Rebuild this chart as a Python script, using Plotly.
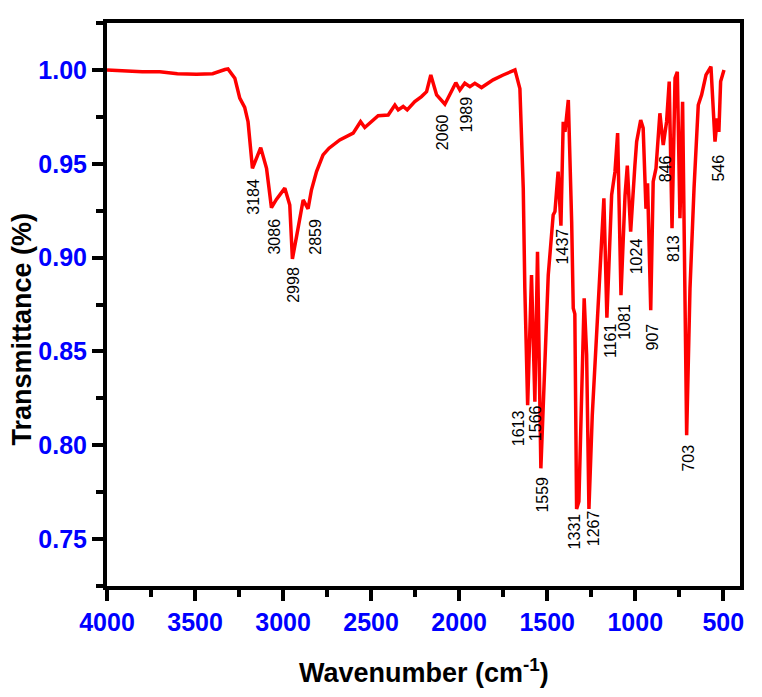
import plotly.graph_objects as go

# FTIR spectrum
wavenumber = [4000, 3900, 3800, 3700, 3600, 3492, 3400, 3330, 3313, 3274, 3246, 3218, 3199,
              3174, 3127, 3094, 3066, 3038, 2990, 2962, 2947, 2915, 2886, 2858, 2839, 2810,
              2773, 2739, 2678, 2602, 2560, 2536, 2460, 2403, 2365, 2346, 2318, 2295, 2252,
              2214, 2185, 2161, 2128, 2081, 2043, 2019, 1996, 1968, 1939, 1911, 1873, 1807,
              1750, 1683, 1655, 1636, 1627, 1611, 1589, 1570, 1555, 1536, 1494, 1466, 1456,
              1438, 1422, 1409, 1399, 1380, 1361, 1352, 1343, 1333, 1320, 1290, 1276, 1263,
              1244, 1219, 1191, 1178, 1161, 1134, 1115, 1100, 1081, 1058, 1045, 1026, 1002,
              992, 969, 955, 939, 930, 912, 898, 882, 860, 841, 822, 807, 791, 774, 761, 746,
              731, 708, 689, 666, 642, 623, 598, 570, 547, 534, 525, 515, 496]
transmittance = [1.000, 0.9995, 0.999, 0.999, 0.998, 0.9977, 0.998, 1.0002, 1.0005, 0.9956,
                 0.985, 0.980, 0.9724, 0.9476, 0.9586, 0.9476, 0.9266, 0.931, 0.937, 0.928,
                 0.8993, 0.9156, 0.9307, 0.926, 0.936, 0.9458, 0.9547, 0.9583, 0.9627, 0.9663,
                 0.9724, 0.9693, 0.9756, 0.976, 0.9813, 0.9787, 0.9805, 0.9787, 0.9831, 0.9858,
                 0.9884, 0.9973, 0.9867, 0.9817, 0.9884, 0.9932, 0.9893, 0.9929, 0.9911, 0.9929,
                 0.9906, 0.9947, 0.9973, 1.000, 0.990, 0.937, 0.8836, 0.8214, 0.8907, 0.8232,
                 0.9031, 0.7877, 0.8907, 0.9227, 0.9245, 0.9458, 0.917, 0.9724, 0.967, 0.984,
                 0.919, 0.873, 0.870, 0.766, 0.770, 0.8783, 0.848, 0.766, 0.816, 0.857, 0.910,
                 0.9316, 0.868, 0.9334, 0.9458, 0.9663, 0.880, 0.933, 0.949, 0.9138, 0.949,
                 0.9618, 0.9733, 0.969, 0.926, 0.9396, 0.872, 0.9405, 0.9476, 0.9769, 0.960,
                 0.9724, 0.9938, 0.9156, 0.9956, 0.999, 0.921, 0.983, 0.8054, 0.8836, 0.937,
                 0.9813, 0.9867, 0.9973, 1.0018, 0.9618, 0.9742, 0.967, 0.9938, 1.000]

# peak labels and where they sit
peak_labels = ["3184", "3086", "2998", "2859", "2060", "1989", "1613", "1566", "1559", "1437",
               "1331", "1267", "1161", "1081", "1024", "907", "846", "813", "703", "546"]
label_x = [3170, 3047, 2939, 2814, 2090, 1958, 1661, 1570, 1526, 1412,
           1343, 1235, 1144, 1058, 992, 901, 831, 787, 699, 528]
label_y = [0.9325, 0.9111, 0.8854, 0.911, 0.967, 0.976, 0.809, 0.8117, 0.7735, 0.9058,
           0.754, 0.7557, 0.856, 0.8658, 0.9005, 0.8578, 0.9476, 0.905, 0.793, 0.9476]

font_fam = "Arial, Liberation Sans, sans-serif"

fig = go.Figure()
fig.add_trace(go.Scatter(x=wavenumber, y=transmittance, mode="lines",
                         line=dict(color="#ff0000", width=3.5), showlegend=False))

for t, x, y in zip(peak_labels, label_x, label_y):
    fig.add_annotation(x=x, y=y, xref="x", yref="y", text=t, showarrow=False, textangle=-90,
                       xanchor="center", yanchor="middle",
                       font=dict(family=font_fam, size=16, color="black"))

# axis titles as annotations so they sit where the original puts them
fig.add_annotation(x=-0.135, y=0.4565, xref="paper", yref="paper", text="Transmittance (%)",
                   showarrow=False, textangle=-90, xanchor="center", yanchor="middle",
                   font=dict(family=font_fam, size=27, color="black", weight="bold"))
fig.add_annotation(x=0.5, y=-0.151, xref="paper", yref="paper",
                   text="Wavenumber (cm<sup>-1</sup>)", showarrow=False,
                   xanchor="center", yanchor="middle",
                   font=dict(family=font_fam, size=27, color="black", weight="bold"))

axis_common = dict(showline=True, linecolor="black", linewidth=4, mirror=True, showgrid=False,
                   zeroline=False, ticks="outside", ticklen=11, tickwidth=4, tickcolor="black",
                   tickfont=dict(family=font_fam, size=25, color="#0000ff", weight="bold"))

fig.update_xaxes(range=[4000, 405], tick0=500, dtick=500,
                 minor=dict(ticks="outside", dtick=250, ticklen=7, tickwidth=4,
                            tickcolor="black", showgrid=False),
                 **axis_common)
fig.update_yaxes(range=[0.725, 1.025], tick0=0.75, dtick=0.05, tickformat=".2f",
                 minor=dict(ticks="outside", dtick=0.025, ticklen=7, tickwidth=4,
                            tickcolor="black", showgrid=False),
                 **axis_common)

# page body adds 8px, so the figure is 8px smaller on each side
fig.update_layout(width=754, height=689, plot_bgcolor="white", paper_bgcolor="white",
                  margin=dict(l=99, r=22, t=15, b=111))

fig.write_html("out.html")
